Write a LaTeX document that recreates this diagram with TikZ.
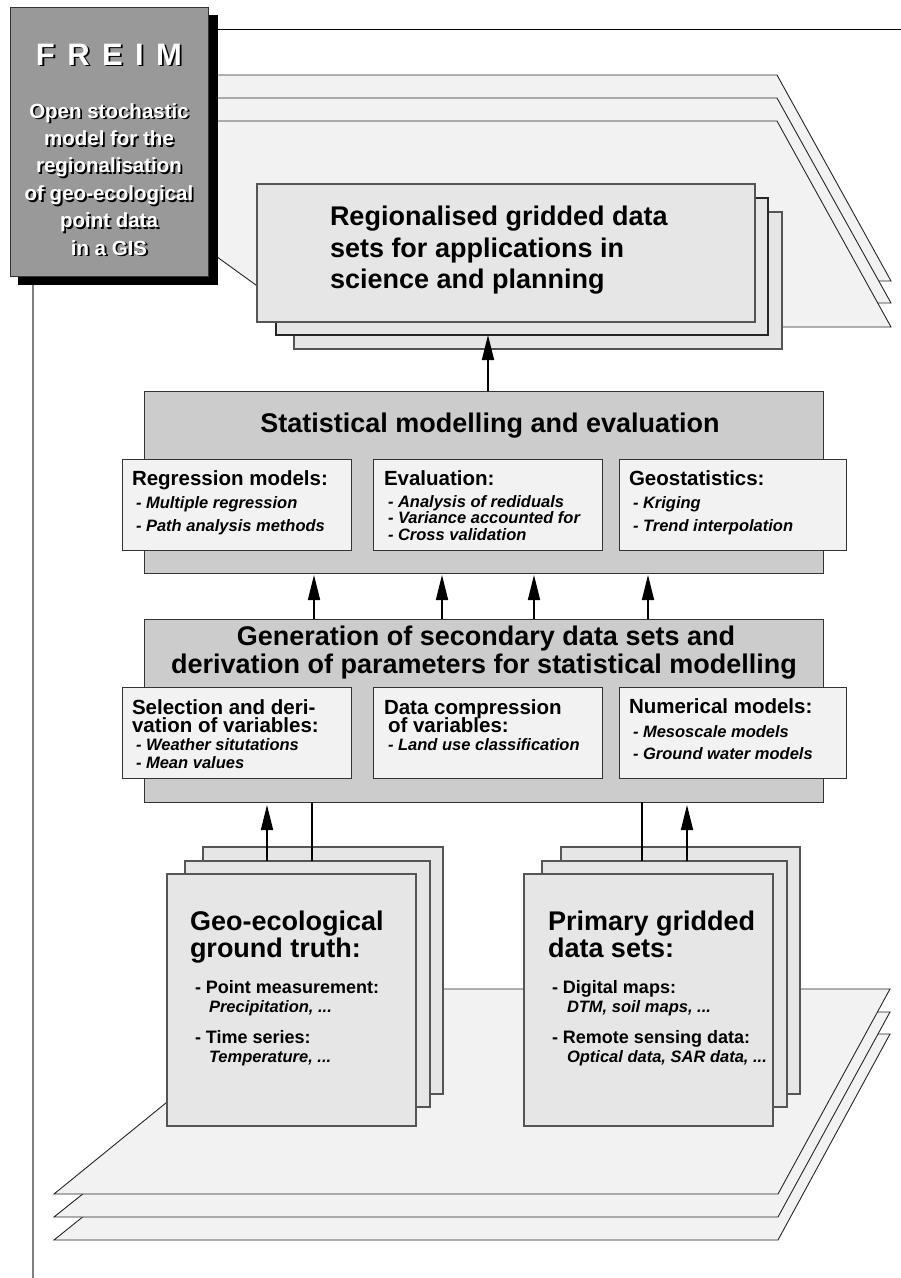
\documentclass[tikz,border=0pt]{standalone}
\usepackage{fontspec}
\setmainfont{Liberation Sans}
\usetikzlibrary{arrows.meta}
\definecolor{freimgray}{HTML}{999999}
\definecolor{midgray}{HTML}{CCCCCC}
\definecolor{stackgray}{HTML}{E6E6E6}
\definecolor{planegray}{HTML}{F2F2F2}
\definecolor{edgegray}{HTML}{555555}
\definecolor{darkedge}{HTML}{333333}
\definecolor{framegray}{HTML}{7F7F7F}
\newcommand{\fs}[2]{\fontsize{#1}{#2}\selectfont}
\newcommand{\bx}[6]{\node[#2, anchor=north west, minimum width={(#5-#3)*1pt}, minimum height={(#6-#4)*1pt}] (#1) at (#3,#4) {};}
\newcommand{\shtext}[5]{%
  \node[anchor=base, text=black] (#1s) at (#2+1.8,#3+1.8) {#4#5};
  \node[anchor=base, text=white] (#1) at (#2,#3) {#4#5};}
\tikzset{
  every node/.style={inner sep=0pt, outer sep=0pt},
  frametop/.style={draw=black, line width=1pt},
  frameleft/.style={draw=framegray, line width=1.5pt},
  plane/.style={draw=black!85, fill=planegray, line width=0.9pt, line join=miter},
  freimshadow/.style={fill=black},
  freimbox/.style={fill=freimgray, draw=darkedge, line width=0.8pt},
  stackbox/.style={fill=stackgray, draw=edgegray, line width=1.1pt},
  midstackbox/.style={stackbox, draw=black!85},
  mainbox/.style={fill=midgray, draw=darkedge, line width=1pt},
  subbox/.style={fill=planegray, draw=darkedge, line width=1pt},
  txt/.style={anchor=base west, text=black},
  ctxt/.style={anchor=base, text=black},
  bigf/.style={font=\fs{27}{28}\bfseries},
  subf/.style={font=\fs{20.5}{21}\bfseries},
  itemf/.style={font=\fs{16.5}{17}\bfseries\itshape},
  ptf/.style={font=\fs{18}{19}\bfseries},
  arr/.style={-{Triangle[length=25pt,width=12pt]}, line width=1.6pt, draw=black},
  conn/.style={line width=1.3pt, draw=black},
}
\begin{document}
\begin{tikzpicture}[x=1pt,y=-1pt]
\useasboundingbox (0,0) rectangle (901,1278);
% frame
\coordinate (frameTL) at (218,29);
\coordinate (frameTR) at (901,29);
\coordinate (frameL) at (33,285);
\coordinate (frameBL) at (33,1278);
\draw[frametop] (frameTL) -- (frameTR);
\draw[frameleft] (frameL) -- (frameBL);
% top planes
\draw[plane] (29,75) -- (777,75) -- (891,281) -- (313,281) -- cycle;
\draw[plane] (29,98) -- (777,98) -- (891,303) -- (313,303) -- cycle;
\draw[plane] (29,121) -- (777,121) -- (891,327) -- (314,327) -- cycle;
% FREIM box
\bx{fshadow}{freimshadow}{18}{15}{218}{285}
\bx{freim}{freimbox}{10}{7}{208}{276}
\shtext{ft}{109}{65}{\fs{31}{31}\bfseries}{F\hspace{0.4em}R\hspace{0.4em}E\hspace{0.4em}I\hspace{0.4em}M}
\shtext{fa}{109}{118}{\fs{20.5}{21}\bfseries}{Open stochastic}
\shtext{fb}{109}{145.4}{\fs{20.5}{21}\bfseries}{model for the}
\shtext{fc}{109}{172.8}{\fs{20.5}{21}\bfseries}{regionalisation}
\shtext{fd}{109}{200.2}{\fs{20.5}{21}\bfseries}{of geo-ecological}
\shtext{fe}{109}{227.6}{\fs{20.5}{21}\bfseries}{point data}
\shtext{ff}{109}{255}{\fs{20.5}{21}\bfseries}{in a GIS}
% regionalised stack
\bx{reg3}{stackbox}{294}{212}{782}{349}
\bx{reg2}{midstackbox}{276}{198}{768}{335}
\bx{reg1}{stackbox}{257}{184}{755}{322}
\node[txt, bigf] (rt1) at (330,225) {Regionalised gridded data};
\node[txt, bigf] (rt2) at (330,257) {sets for applications in};
\node[txt, bigf] (rt3) at (330,288) {science and planning};
% statistical modelling
\bx{stat}{mainbox}{144}{391}{823}{573}
\node[ctxt, bigf] (st) at (490,432) {Statistical modelling and evaluation};
\bx{sreg}{subbox}{122}{459}{351}{550}
\bx{seva}{subbox}{373}{459}{602}{550}
\bx{sgeo}{subbox}{619}{459}{846}{550}
\node[txt, subf] (sreg0) at (132,485) {Regression models:};
\node[txt, itemf] (sreg1) at (136,508) {- Multiple regression};
\node[txt, itemf] (sreg2) at (136,531) {- Path analysis methods};
\node[txt, subf] (seva0) at (384,485) {Evaluation:};
\node[txt, itemf] (seva1) at (388,507) {- Analysis of rediduals};
\node[txt, itemf] (seva2) at (388,523.5) {- Variance accounted for};
\node[txt, itemf] (seva3) at (388,540) {- Cross validation};
\node[txt, subf] (sgeo0) at (629,485) {Geostatistics:};
\node[txt, itemf] (sgeo1) at (633,508) {- Kriging};
\node[txt, itemf] (sgeo2) at (633,531) {- Trend interpolation};
% generation
\bx{gen}{mainbox}{144}{619}{823}{802}
\node[ctxt, bigf] (gt1) at (486,645) {Generation of secondary data sets and};
\node[ctxt, bigf] (gt2) at (484,673) {derivation of parameters for statistical modelling};
\bx{gsel}{subbox}{122}{687}{351}{778}
\bx{gdat}{subbox}{373}{687}{602}{778}
\bx{gnum}{subbox}{619}{687}{846}{778}
\node[txt, subf] (gsel0) at (132,714.5) {Selection and deri-};
\node[txt, subf] (gsel1) at (132,732) {vation of variables:};
\node[txt, itemf] (gsel2) at (136,750) {- Weather situtations};
\node[txt, itemf] (gsel3) at (136,768) {- Mean values};
\node[txt, subf] (gdat0) at (384,714.5) {Data compression};
\node[txt, subf] (gdat1) at (388,732) {of variables:};
\node[txt, itemf] (gdat2) at (388,750) {- Land use classification};
\node[txt, subf] (gnum0) at (629,713) {Numerical models:};
\node[txt, itemf] (gnum1) at (633,737) {- Mesoscale models};
\node[txt, itemf] (gnum2) at (633,759) {- Ground water models};
% bottom planes
\draw[plane] (310,1034) -- (890,1034) -- (778,1240) -- (54,1240) -- cycle;
\draw[plane] (310,1012) -- (890,1012) -- (778,1217) -- (54,1217) -- cycle;
\draw[plane] (306,989) -- (890,989) -- (778,1194) -- (54,1194) -- cycle;
% left stack
\bx{lg3}{stackbox}{203}{847}{443}{1094}
\bx{lg2}{stackbox}{185}{861}{430}{1107}
\bx{lg1}{stackbox}{167}{874}{416}{1126}
\node[txt, bigf] (lt1) at (190,930) {Geo-ecological};
\node[txt, bigf] (lt2) at (190,957) {ground truth:};
\node[txt, ptf] (lt3) at (195,993) {- Point measurement:};
\node[txt, itemf] (lt4) at (209,1012) {Precipitation, ...};
\node[txt, ptf] (lt5) at (195,1043) {- Time series:};
\node[txt, itemf] (lt6) at (209,1062) {Temperature, ...};
% right stack
\bx{rg3}{stackbox}{561}{847}{800}{1094}
\bx{rg2}{stackbox}{542}{861}{787}{1107}
\bx{rg1}{stackbox}{524}{874}{773}{1126}
\node[txt, bigf] (pt1) at (548,930) {Primary gridded};
\node[txt, bigf] (pt2) at (548,957) {data sets:};
\node[txt, ptf] (pt3) at (552,993) {- Digital maps:};
\node[txt, itemf] (pt4) at (567,1012) {DTM, soil maps, ...};
\node[txt, ptf] (pt5) at (552,1043) {- Remote sensing data:};
\node[txt, itemf] (pt6) at (567,1062) {Optical data, SAR data, ...};
% connectors
\coordinate (ta) at (488,0);
\coordinate (ma1) at (314,0);
\coordinate (ma2) at (442,0);
\coordinate (ma3) at (534,0);
\coordinate (ma4) at (648,0);
\coordinate (lc) at (312,0);
\coordinate (la) at (267,0);
\coordinate (rc) at (642,0);
\coordinate (ra) at (687,0);
\draw[arr] (stat.north -| ta) -- (reg2.south -| ta);
\draw[arr, shorten >=2pt] (gen.north -| ma1) -- (stat.south -| ma1);
\draw[arr, shorten >=2pt] (gen.north -| ma2) -- (stat.south -| ma2);
\draw[arr, shorten >=2pt] (gen.north -| ma3) -- (stat.south -| ma3);
\draw[arr, shorten >=2pt] (gen.north -| ma4) -- (stat.south -| ma4);
\draw[conn] (gen.south -| lc) -- (lg2.north -| lc);
\draw[arr, shorten >=3pt] (lg2.north -| la) -- (gen.south -| la);
\draw[conn] (gen.south -| rc) -- (rg2.north -| rc);
\draw[arr, shorten >=3pt] (rg2.north -| ra) -- (gen.south -| ra);
\end{tikzpicture}
\end{document}
